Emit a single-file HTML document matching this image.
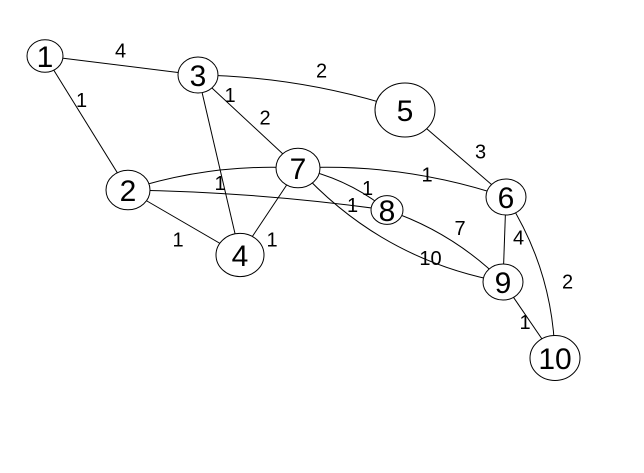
<!DOCTYPE html>
<html><head><meta charset="utf-8">
<style>
html,body{margin:0;padding:0;background:#fff;}
svg{display:block;}
text{font-family:"Liberation Sans",sans-serif;fill:#000;}
</style></head>
<body>
<svg id="g" width="644" height="473" viewBox="0 0 644 473" xmlns="http://www.w3.org/2000/svg"></svg>
<script>
const nodeIds=["1","2","3","4","5","6","7","8","9","10"];
const nodeX=[45,128,198,240,405,506,298,387,503,555];
const nodeY=[56,190,75,255,110,197,168,210,282,358];
const nodeR=[18,22,20,24,30,20,22,16,20,25];
const edgeFrom=["1","3","1","3","3","2","2","2","7","7","7","7","8","5","6","6","9"];
const edgeTo  =["3","5","2","7","4","7","8","4","4","6","8","9","9","6","9","10","10"];
const edgeW   =["4","2","1","2","1","1","1","1","1","1","1","10","7","3","4","2","1"];
const edgeBend=[0,-8,0,0,0,-8,-4,0,0,-10,-6,20,-8,0,0,-12,0];
const labelDx=[-1,20,-5,17,11,7,95,-6,3,25,25,30,15,25,14,37,-4];
const labelDy=[-15,-22,-23,-4,-70,4,5,17,28,-8,-1,33,-18,-2,-2,4,2];
const svg=document.getElementById('g');
const NS='http://www.w3.org/2000/svg';
function pos(id){const i=nodeIds.indexOf(id);return [nodeX[i],nodeY[i]];}
edgeFrom.forEach((f,k)=>{
  const [x1,y1]=pos(f),[x2,y2]=pos(edgeTo[k]);
  const mx=(x1+x2)/2,my=(y1+y2)/2;
  const dx=x2-x1,dy=y2-y1,L=Math.hypot(dx,dy);
  const nx=-dy/L,ny=dx/L,b=edgeBend[k];
  const p=document.createElementNS(NS,'path');
  p.setAttribute('d',`M${x1},${y1} Q${mx+nx*b*2},${my+ny*b*2} ${x2},${y2}`);
  p.setAttribute('fill','none');p.setAttribute('stroke','#000');p.setAttribute('stroke-width','1');
  
  
  svg.appendChild(p);
  if(edgeW[k]){
    const t=document.createElementNS(NS,'text');
    t.setAttribute('x',mx+labelDx[k]);t.setAttribute('y',my+labelDy[k]+7);
    t.setAttribute('font-size','20');t.setAttribute('text-anchor','middle');
    t.textContent=edgeW[k];
    
    
    svg.appendChild(t);
  }
});
nodeIds.forEach((id,i)=>{
  const c=document.createElementNS(NS,'ellipse');
  c.setAttribute('cx',nodeX[i]);c.setAttribute('cy',nodeY[i]);
  c.setAttribute('rx',nodeR[i]);c.setAttribute('ry',nodeR[i]*0.9);
  c.setAttribute('fill','#fff');c.setAttribute('stroke','#000');
  
  
  svg.appendChild(c);
  const t=document.createElementNS(NS,'text');
  t.setAttribute('x',nodeX[i]);t.setAttribute('y',nodeY[i]+11);
  t.setAttribute('font-size','30');t.setAttribute('text-anchor','middle');
  t.textContent=id;
  
  
  svg.appendChild(t);
});
</script>
</body></html>
